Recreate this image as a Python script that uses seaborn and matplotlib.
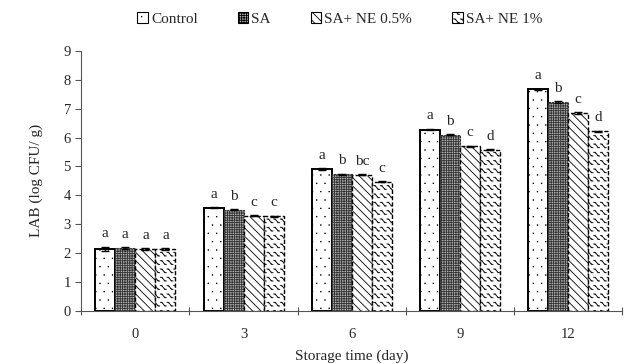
import numpy as np
import pandas as pd
import matplotlib
matplotlib.use("Agg")
import matplotlib.pyplot as plt
import seaborn as sns
from matplotlib.patches import Patch
from matplotlib import hatch as mhatch
from matplotlib.path import Path

days = ["0", "3", "6", "9", "12"]
groups = ["Control", "SA", "SA+ NE 0.5%", "SA+ NE 1%"]
control = [2.15, 3.57, 4.92, 6.28, 7.68]
sa = [2.17, 3.50, 4.73, 6.10, 7.23]
ne05 = [2.15, 3.30, 4.72, 5.70, 6.85]
ne1 = [2.15, 3.27, 4.47, 5.58, 6.22]
err_control = [0.07, 0.02, 0.03, 0.03, 0.02]
err_sa = [0.04, 0.02, 0.02, 0.02, 0.02]
err_ne05 = [0.03, 0.02, 0.02, 0.02, 0.02]
err_ne1 = [0.03, 0.02, 0.02, 0.02, 0.02]
letters_control = ["a", "a", "a", "a", "a"]
letters_sa = ["a", "b", "b", "b", "b"]
letters_ne05 = ["a", "c", "bc", "c", "c"]
letters_ne1 = ["a", "c", "c", "d", "d"]

values = [control, sa, ne05, ne1]
errs = [err_control, err_sa, err_ne05, err_ne1]
letters = [letters_control, letters_sa, letters_ne05, letters_ne1]


# custom "wave" hatch, bound to the 'O' character
class WaveHatch(mhatch.HatchPatternBase):
    def __init__(self, hatch, density):
        self.num_rows = int(hatch.count('O') * density)
        self.per_row = 15
        self.num_vertices = self.num_rows * self.per_row * 4

    def set_vertices_and_codes(self, vertices, codes):
        if self.num_rows == 0:
            return
        ys = (np.arange(self.num_rows) + 0.5) / self.num_rows
        xs = np.arange(self.per_row) / self.per_row
        w = 1.0 / self.per_row
        h = 0.45 / self.num_rows
        i = 0
        for y in ys:
            for x in xs:
                vertices[i:i + 4] = [(x + 0.05 * w, y + h / 2), (x + 0.3 * w, y + h / 2),
                                     (x + 0.7 * w, y - h / 2), (x + 0.95 * w, y - h / 2)]
                codes[i] = Path.MOVETO
                codes[i + 1:i + 4] = Path.LINETO
                i += 4


mhatch._hatch_types = [t for t in mhatch._hatch_types if t is not mhatch.LargeCircles] + [WaveHatch]
mhatch.SmallFilledCircles.size = 0.04

rows = []
for g, vals in zip(groups, values):
    for d, v in zip(days, vals):
        rows.append({"day": d, "group": g, "value": v})
df = pd.DataFrame(rows)

sns.set_style("white")
plt.rcParams["font.family"] = ["Liberation Serif", "DejaVu Serif"]
plt.rcParams["hatch.linewidth"] = 0.6

fig = plt.figure(figsize=(6.35, 3.64), dpi=100)
ax = fig.add_axes([0.128, 0.146, 0.852, 0.714])

palette = {"Control": "white", "SA": "#b0b0b0", "SA+ NE 0.5%": "white", "SA+ NE 1%": "white"}
sns.barplot(data=df, x="day", y="value", hue="group", order=days, hue_order=groups,
            palette=palette, width=0.74, errorbar=None, ax=ax, legend=False, saturation=1)

hatches = ["..", "+++++++", "\\\\\\\\", "OO"]
edgecols = ["black", "#333333", "black", "black"]
styles = ["solid", (0, (2, 1)), (0, (3, 1.5)), (0, (3, 1.5))]
lws = [1.4, 0.8, 1.0, 1.0]
bar_containers = list(ax.containers)
for gi, cont in enumerate(bar_containers):
    for di, bar in enumerate(cont):
        bar.set_hatch(hatches[gi])
        bar.set_edgecolor(edgecols[gi])
        bar.set_linestyle(styles[gi])
        bar.set_linewidth(lws[gi])
        x = bar.get_x() + bar.get_width() / 2
        h = bar.get_height()
        e = errs[gi][di]
        ax.errorbar(x, h, yerr=e, color="black", capsize=3, elinewidth=1, capthick=1)
        ax.text(x, h + e + 0.22, letters[gi][di], ha="center", va="bottom", fontsize=11)

ax.set_ylim(0, 9)
ax.set_yticks(range(0, 10))
ax.set_xlim(-0.5, 4.5)
ax.set_xticks(np.arange(-0.5, 5, 1), minor=False)
ax.set_xticklabels([])
ax.set_xticks(range(5), minor=True)
ax.set_xticklabels(days, minor=True)
ax.tick_params(axis="x", which="major", length=6, direction="inout", bottom=True, color="#555")
ax.tick_params(axis="x", which="minor", length=0, labelsize=10.5, pad=12.5)
ax.tick_params(axis="y", length=4, direction="out", left=True, labelsize=10.5, color="#555")
for s in ["top", "right"]:
    ax.spines[s].set_visible(False)
for s in ["left", "bottom"]:
    ax.spines[s].set_color("#555")
    ax.spines[s].set_linewidth(0.8)
ax.set_xlabel("Storage time (day)", fontsize=11, labelpad=6)
ax.set_ylabel("LAB (log CFU/ g)", fontsize=11, labelpad=15)

handles = []
for gi, g in enumerate(groups):
    handles.append(Patch(facecolor=palette[g], edgecolor="black", hatch=hatches[gi], label=g, linewidth=0.8))
fig.legend(handles=handles, loc="upper center", bbox_to_anchor=(0.535, 1.005), ncol=4, frameon=False,
           fontsize=11, handlelength=0.7, handleheight=0.7, handletextpad=0.2, columnspacing=2.6)

fig.savefig("out.png", dpi=100)
